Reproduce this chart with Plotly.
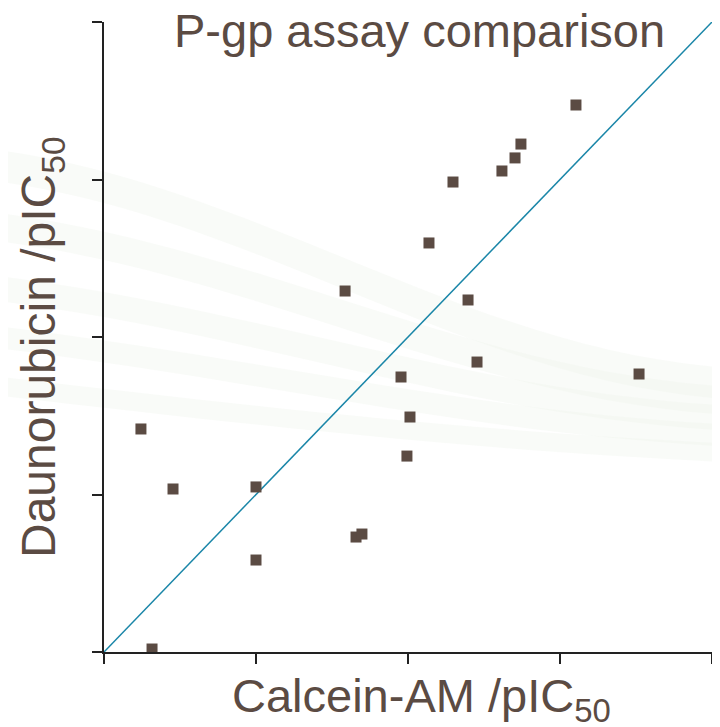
import plotly.graph_objects as go

calcein_pic50 = [4.243, 4.316, 4.454, 5.0, 5.0, 5.586, 5.658, 5.697, 5.954, 5.993,
                 6.013, 6.138, 6.296, 6.395, 6.454, 6.618, 6.704, 6.743, 7.105, 7.520]
dauno_pic50 = [5.416, 4.019, 5.035, 5.048, 4.584, 6.292, 4.730, 4.749, 5.746, 5.244,
               5.492, 6.597, 6.984, 6.235, 5.841, 7.054, 7.137, 7.225, 7.473, 5.765]
identity_line = [4, 8]
tick_values = [4, 5, 6, 7, 8]

TEXT = "#5b4b43"
FONT = "Liberation Sans, Arial, sans-serif"

# page offsets (html body has an 8px margin)
PLOT_L, PLOT_T, PLOT_W, PLOT_H = 104, 22, 608, 630


def px_x(p):
    return (p - PLOT_L) / PLOT_W


def px_y(p):
    return 1 - (p - PLOT_T) / PLOT_H


fig = go.Figure()
fig.add_trace(go.Scatter(x=identity_line, y=identity_line, mode="lines",
                         line=dict(color="#1a86a8", width=1.5), hoverinfo="skip",
                         showlegend=False))
fig.add_trace(go.Scatter(x=calcein_pic50, y=dauno_pic50, mode="markers",
                         marker=dict(symbol="square", size=11, color="#5b4b43",
                                     line=dict(width=0)),
                         showlegend=False))


def band(yl, yr, w):
    return (f"M -0.2 {yl} C 0.25 {yl-0.05}, 0.6 {yr+0.02}, 1.05 {yr} "
            f"L 1.05 {yr-w} C 0.6 {yr+0.02-w}, 0.25 {yl-0.05-w}, -0.2 {yl-w} Z")


band_specs = [(0.80, 0.45, 0.05), (0.70, 0.42, 0.045), (0.60, 0.39, 0.04),
              (0.52, 0.36, 0.035), (0.44, 0.33, 0.03)]
shapes = [dict(type="path", path=band(a, b, w), xref="paper", yref="paper",
               fillcolor="#eef3ec", opacity=0.35, line=dict(width=0), layer="below")
          for a, b, w in band_specs]

axis_common = dict(range=[4, 8], tickvals=tick_values, showticklabels=False,
                   ticks="outside", ticklen=10, tickwidth=1.5, tickcolor="#222",
                   showline=True, linecolor="#222", linewidth=1.5,
                   showgrid=False, zeroline=False, mirror=False, automargin=False)

fig.update_layout(
    width=712, height=719,
    margin=dict(l=96, r=8, t=14, b=75),
    paper_bgcolor="white", plot_bgcolor="rgba(0,0,0,0)",
    shapes=shapes,
    xaxis=dict(**axis_common),
    yaxis=dict(**axis_common),
    annotations=[
        dict(text="P-gp assay comparison", xref="paper", yref="paper",
             x=px_x(419), y=px_y(31), xanchor="center", yanchor="middle",
             showarrow=False, font=dict(family=FONT, size=47, color=TEXT)),
        dict(text="Calcein-AM /pIC<sub>50</sub>", xref="paper", yref="paper",
             x=px_x(421), y=px_y(699), xanchor="center", yanchor="middle",
             showarrow=False, font=dict(family=FONT, size=47, color=TEXT)),
        dict(text="Daunorubicin /pIC<sub>50</sub>", xref="paper", yref="paper",
             x=px_x(42), y=px_y(347), xanchor="center", yanchor="middle",
             textangle=-90,
             showarrow=False, font=dict(family=FONT, size=48, color=TEXT)),
    ],
)

fig.write_html("out.html")
